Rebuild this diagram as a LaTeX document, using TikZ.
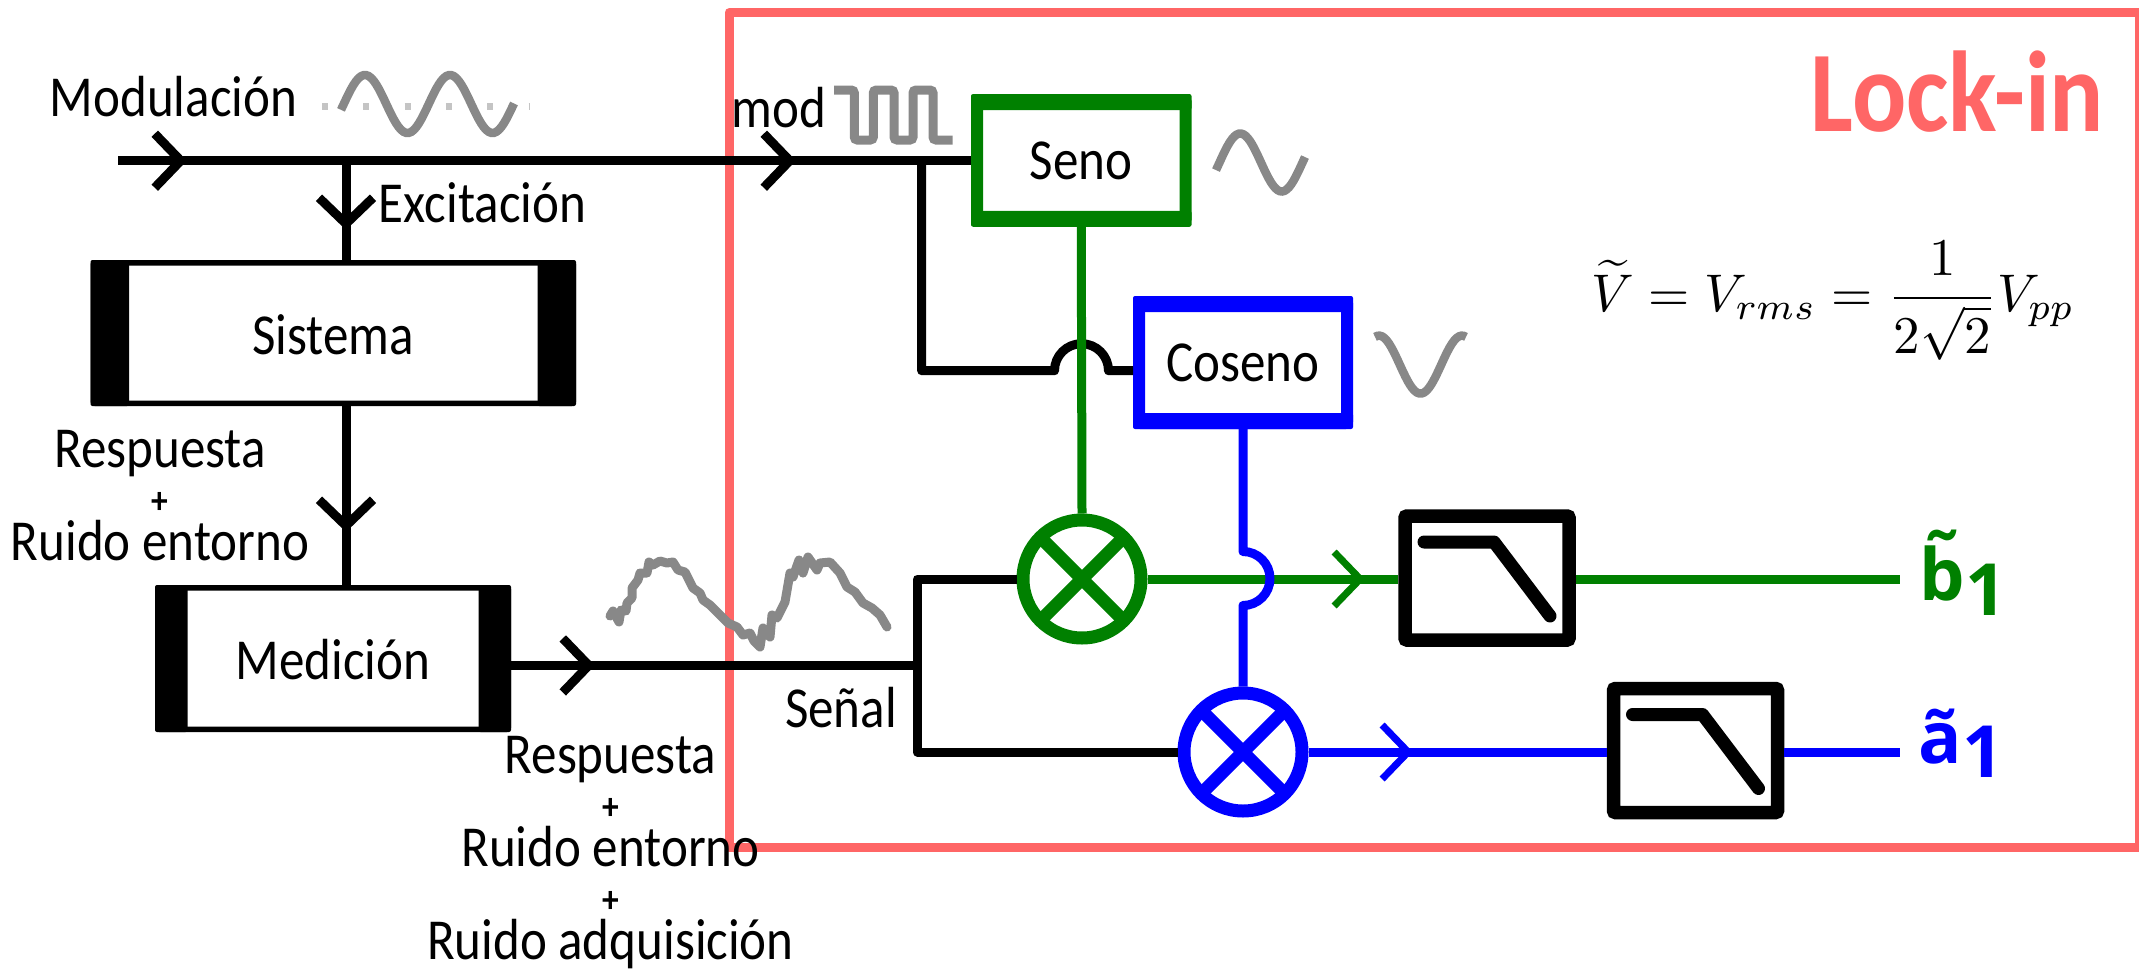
\documentclass[tikz,border=0pt]{standalone}
\usepackage[no-math]{fontspec}
\usepackage{amsmath}
\setmainfont[FakeStretch=0.88]{Carlito}
\newfontfamily\outfont{Open Sans}
\usetikzlibrary{arrows.meta,calc,positioning}
\definecolor{lockred}{HTML}{FF6666}
\definecolor{wavegray}{HTML}{888888}
\definecolor{dotgray}{HTML}{C4C4C4}
\definecolor{sengreen}{HTML}{008000}
\definecolor{cosblue}{HTML}{0000FF}
\tikzset{
	wire/.style={line width=9pt,line join=round},
	wave/.style={wavegray,line width=8.5pt},
	tipk/.style={-{Straight Barb[length=26pt,width=54pt,line width=9pt]}},
	tipc/.style={-{Straight Barb[length=26pt,width=54pt,line width=7pt]}},
	proc/.style={draw,fill=white,line width=5.5pt,rounded corners=2pt,inner sep=0pt,text height=42pt,text depth=0pt,font=\fontsize{58}{58}\selectfont},
	osc/.style={draw=#1,fill=white,line width=12pt,rounded corners=2pt,inner sep=0pt,text height=38pt,text depth=0pt,font=\fontsize{58}{58}\selectfont},
	lowp/.style={draw,fill=white,line width=13.5pt,rounded corners=2pt,minimum width=164pt,minimum height=124pt},
	mixer/.style={circle,draw=#1,fill=white,line width=13pt,minimum size=118pt,inner sep=0pt,
		path picture={\draw[#1,line width=13pt] (path picture bounding box.north west) -- (path picture bounding box.south east)
			(path picture bounding box.north east) -- (path picture bounding box.south west);}},
	txt/.style={anchor=base,inner sep=0pt,font=\fontsize{58}{46.4}\selectfont},
	outp/.style={anchor=base,inner sep=0pt,font=\outfont\fontsize{72}{72}\selectfont\bfseries}
}
% black bars on the sides of a block
\newcommand{\sidebars}[2]{
	\fill[rounded corners=2pt] (#1.north west) rectangle ([xshift=#2]#1.south west);
	\fill[rounded corners=2pt] (#1.north east) rectangle ([xshift=-#2]#1.south east);
}
% thicker top and bottom of an oscillator box
\newcommand{\rims}[3]{
	\fill[#3,rounded corners=2pt] (#1.north west) rectangle ([yshift=-#2]#1.north east);
	\fill[#3,rounded corners=2pt] (#1.south west) rectangle ([yshift=#2]#1.south east);
}
% low pass symbol
\newcommand{\lowpass}[1]{
	\draw[line width=13pt,line cap=round,line join=round,shift={(#1.center)}] (-63,-36) -- (7,-36) -- (63,38);
}
\newcommand{\plusl}{{\fontsize{38}{46.4}\selectfont\bfseries +}}
\begin{document}
\begin{tikzpicture}[x=1pt,y=-1pt]
	\useasboundingbox (0,0) rectangle (2139,969);
	\draw[lockred,line width=9pt,line join=round] (729,12.5) rectangle (2139,847.5);
	\node[lockred,anchor=base,inner sep=0pt,font=\fontsize{115}{115}\selectfont\bfseries] (lock) at (1957.5,131.7) {Lock-in};

	% blocks
	\node[proc,minimum width=480pt,minimum height=140.5pt] (sistema) at (333.25,333) {Sistema};
	\node[proc,minimum width=350.5pt,minimum height=141.5pt] (medicion) at (333,658.5) {Medición};
	\sidebars{sistema}{38.5pt}
	\sidebars{medicion}{32.5pt}
	\node[osc=sengreen,minimum width=208.5pt,minimum height=120.7pt] (seno) at (1081.25,160.4) {Seno};
	\node[osc=cosblue,minimum width=208pt,minimum height=121pt] (coseno) at (1243,362.5) {Coseno};
	\rims{seno}{16pt}{sengreen}
	\rims{coseno}{16pt}{cosblue}
	\node[mixer=sengreen] (mixg) at (1082,579) {};
	\node[mixer=cosblue] (mixb) at (1243,752) {};
	\node[lowp] (lpg) at (1487,578) {};
	\node[lowp] (lpb) at (1695.5,750.5) {};
	\lowpass{lpg}
	\lowpass{lpb}

	% points on the lines
	\coordinate (in) at (118,160.7);
	\coordinate (tipa) at (187,160.7);
	\coordinate (tipb) at (796,160.7);
	\coordinate (tap) at (346,160.7);
	\coordinate (tipc) at (346,230);
	\coordinate (tipd) at (346,532);
	\coordinate (tapb) at (921.6,160.7);
	\coordinate (hopa) at (1054.5,370.7);
	\coordinate (medout) at (511,665.4);
	\coordinate (tipe) at (595,665.4);
	\coordinate (split) at (917.3,665.4);
	\coordinate (tipf) at (1365,579);
	\coordinate (tipg) at (1413,752);
	\coordinate (endg) at (1900,579);
	\coordinate (endb) at (1900,752);
	\coordinate (hopb) at (1243,551.5);

	% black lines
	\draw[wire] (in) -- (seno.west |- in);
	\draw[wire,tipk] (in) -- (tipa);
	\draw[wire,tipk] (in) -- (tipb);
	\draw[wire] (tap) -- (tap |- sistema.north);
	\draw[wire,tipk] (tap) -- (tipc);
	\draw[wire] (tap |- sistema.south) -- (tap |- medicion.north);
	\draw[wire,tipk] (tap |- sistema.south) -- (tipd);
	\draw[wire] (tapb) |- (hopa) arc[start angle=180,end angle=0,radius=27pt] -- (coseno.west |- hopa);
	\draw[wire] (medout) -- (split);
	\draw[wire,tipk] (medout) -- (tipe);
	\draw[wire] (mixg.west) -| (split) |- (mixb.west);

	% green lines
	\draw[wire,sengreen] (seno.south) -- (mixg.north);
	\draw[wire,sengreen] (mixg.east) -- (lpg.west |- mixg);
	\draw[wire,sengreen,tipc] (mixg.east) -- (tipf);
	\draw[wire,sengreen] (lpg.east |- endg) -- (endg);

	% blue lines
	\draw[wire,cosblue] (coseno.south) -- (hopb) arc[start angle=90,end angle=-90,radius=27pt] -- (mixb.north);
	\draw[wire,cosblue] (mixb.east) -- (lpb.west |- mixb);
	\draw[wire,cosblue,tipc] (mixb.east) -- (tipg);
	\draw[wire,cosblue] (lpb.east |- endb) -- (endb);

	% waves
	\draw[dotgray,line width=7pt,dash pattern=on 6pt off 35.3pt] (322,106.7) -- (530,106.7);
	\draw[wave] plot[domain=341:514,samples=70] (\x,{104-29*sin((\x-343.75)/85*360)});
	\draw[wave] plot[domain=1216:1305,samples=40] (\x,{162.5-29*sin((\x-1219.5)/83*360)});
	\draw[wave] plot[domain=1375:1466,samples=40] (\x,{364.6+29*cos((\x-1420.5)/83*360)});
	\draw[wavegray,line width=9pt,rounded corners=3pt] (834,90) -- (854.3,90) -- (854.3,140) -- (873.3,140) -- (873.3,90)
		-- (894,90) -- (894,140) -- (913,140) -- (913,90) -- (933,90) -- (933,140) -- (952.6,140);
	\draw[wavegray,line width=9pt,line join=round,line cap=round] plot coordinates {
		(610,616) (613,611) (619,622) (621,610) (626,611) (627,603) (632,598) (632,588) (638,580) (640,573)
		(647,573) (649,562) (653,565) (660,561) (667,563) (673,562) (678,570) (685,572) (693,588) (700,593)
		(703,600) (710,605) (717,612) (723,618) (728,623) (737,627) (743,635) (750,633) (754,641) (760,647)
		(763,628) (770,637) (772,615) (777,618) (785,602) (790,573) (793,577) (799,560) (803,573) (808,557)
		(817,570) (820,563) (830,562) (840,573) (847,587) (855,592) (863,603) (872,608) (880,615) (887,627)};

	% labels
	\node[txt] (modul) at (173.5,116.7) {Modulación};
	\node[txt] (excit) at (482.5,222.7) {Excitación};
	\node[txt] (modl) at (779,127.7) {mod};
	\node[txt] (senal) at (841,727.4) {Señal};
	\node[txt,align=center] (resa) at (160,560) {Respuesta\\\plusl\\Ruido entorno};
	\node[txt,align=center] (resb) at (610.5,959) {Respuesta\\\plusl\\Ruido entorno\\\plusl\\Ruido adquisición};
	\node[outp,text=sengreen] (bout) at (1963,600) {\accent"02DC b\raisebox{-15pt}{1}};
	\node[outp,text=cosblue] (aout) at (1961,763) {\accent"02DC a\raisebox{-14pt}{1}};
	\node[anchor=base,inner sep=0pt] (eqn) at (1833,311.5) {\scalebox{5.3}{$\displaystyle\widetilde{V}=V_{rms}=\frac{1}{2\sqrt{2}}V_{pp}$}};
\end{tikzpicture}
\end{document}
